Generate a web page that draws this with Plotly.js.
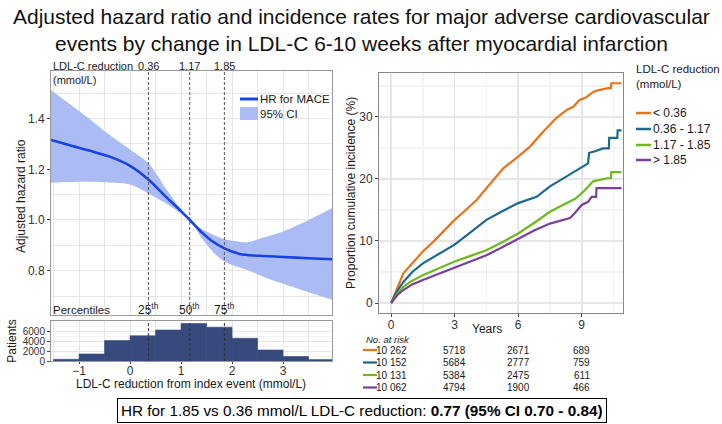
<!DOCTYPE html>
<html><head><meta charset="utf-8">
<script src="https://cdn.plot.ly/plotly-3.0.1.min.js"></script>
<style>html,body{margin:0;padding:0;background:#fff}#chart{width:722px;height:424px}</style>
</head><body><div id="chart"></div>
<script>
// ---- Left panel: spline HR curve ----
const ldlX    = [-1.55, -1.2, -0.8, -0.4, 0, 0.36, 0.7, 1.0, 1.17, 1.4, 1.6, 1.85, 2.15, 2.3, 2.6, 3.0, 3.5, 3.96];
const hrMid   = [1.316, 1.296, 1.274, 1.25, 1.214, 1.16, 1.092, 1.035, 1.0, 0.952, 0.918, 0.888, 0.866, 0.862, 0.858, 0.854, 0.849, 0.845];
const hrUpper = [1.513, 1.46, 1.40, 1.335, 1.278, 1.224, 1.125, 1.04, 1.0, 0.965, 0.945, 0.924, 0.914, 0.912, 0.93, 0.955, 1.0, 1.046];
const hrLower = [1.147, 1.15, 1.151, 1.148, 1.14, 1.105, 1.066, 1.025, 1.0, 0.93, 0.88, 0.836, 0.812, 0.803, 0.777, 0.748, 0.715, 0.685];

// ---- Histogram ----
const binCenters = [-1.25, -0.75, -0.25, 0.25, 0.75, 1.25, 1.75, 2.25, 2.75, 3.25, 3.75];
const binCounts  = [340, 1400, 4100, 5050, 6200, 7500, 6750, 4550, 2200, 900, 280];

// ---- Percentiles ----
const pctValues = [0.36, 1.17, 1.85];
const pctLabels = ['25', '50', '75'];

// ---- Right panel: cumulative incidence ----
const groupNames  = ['< 0.36', '0.36 - 1.17', '1.17 - 1.85', '> 1.85'];
const groupColors = ['#E8731A', '#1B6A8E', '#6DB71F', '#7A3E9D'];

const tOrange = [0, 0.3, 0.58, 1.13, 1.5, 2.0, 2.5, 3.0, 3.5, 4.04, 4.5, 5.0, 5.3, 6.0, 6.56, 7.18, 7.8, 8.29, 8.6, 8.9, 9.2, 9.54, 9.8, 10.25, 10.38, 10.4, 10.88];
const yOrange = [0, 2.6, 4.8, 6.9, 8.3, 9.9, 11.7, 13.4, 14.9, 16.6, 18.5, 20.4, 21.7, 23.6, 25.2, 27.6, 29.8, 31.1, 31.6, 32.7, 33.1, 34.0, 34.3, 34.6, 34.6, 35.4, 35.4];

const tTeal = [0, 0.3, 0.58, 1.0, 1.5, 2.0, 2.5, 3.0, 3.75, 4.5, 5.25, 6.0, 6.87, 7.5, 8.29, 8.9, 9.3, 9.35, 9.6, 10.0, 10.28, 10.3, 10.68, 10.7, 10.88];
const yTeal = [0, 2.0, 3.4, 5.0, 6.4, 7.4, 8.4, 9.4, 11.4, 13.4, 14.8, 16.1, 17.1, 18.8, 20.4, 21.7, 22.5, 24.2, 24.4, 24.9, 24.9, 26.6, 26.6, 27.8, 27.8];

const tGreen = [0, 0.3, 0.58, 1.0, 1.5, 2.25, 3.0, 3.75, 4.5, 5.25, 6.0, 6.75, 7.5, 8.29, 8.7, 9.1, 9.54, 9.8, 10.2, 10.38, 10.4, 10.88];
const yGreen = [0, 1.5, 2.6, 3.6, 4.5, 5.6, 6.7, 7.6, 8.5, 9.8, 11.2, 12.9, 14.7, 16.1, 16.8, 18.0, 19.6, 19.8, 20.1, 20.1, 21.1, 21.1];

const tPurple = [0, 0.3, 0.58, 1.0, 1.5, 2.25, 3.0, 3.75, 4.5, 5.25, 6.0, 6.75, 7.5, 8.0, 8.45, 8.7, 9.0, 9.3, 9.47, 9.68, 9.7, 10.88];
const yPurple = [0, 1.3, 2.1, 3.0, 3.7, 4.7, 5.6, 6.6, 7.7, 9.0, 10.4, 11.7, 12.8, 13.3, 13.7, 14.6, 15.8, 16.3, 17.1, 17.1, 18.5, 18.5];

// ---- Number at risk ----
const riskTimes  = [0, 3, 6, 9];
const riskOrange = ['10 262', '5718', '2671', '689'];
const riskTeal   = ['10 152', '5684', '2777', '759'];
const riskGreen  = ['10 131', '5384', '2475', '611'];
const riskPurple = ['10 062', '4794', '1900', '466'];

const W = 722, H = 424;
const px = x => x / W;
const py = y => 1 - y / H;
const FONT = 'Liberation Sans, Arial, sans-serif';
const TXT = '#1a1a1a';
const GRID = '#e6e6e6';
const MINOR = '#f3f3f3';

const curveT = [tOrange, tTeal, tGreen, tPurple];
const curveY = [yOrange, yTeal, yGreen, yPurple];
const riskRows = [riskOrange, riskTeal, riskGreen, riskPurple];

const data = [
  {x: ldlX, y: hrLower, xaxis: 'x', yaxis: 'y', mode: 'lines', line: {width: 0, shape: 'spline', smoothing: 0.9}, showlegend: false, hoverinfo: 'skip'},
  {x: ldlX, y: hrUpper, xaxis: 'x', yaxis: 'y', mode: 'lines', fill: 'tonexty', fillcolor: 'rgb(170,188,243)', line: {width: 0, shape: 'spline', smoothing: 0.9}, showlegend: false},
  {x: ldlX, y: hrMid, xaxis: 'x', yaxis: 'y', mode: 'lines', line: {color: '#1742E6', width: 2.6, shape: 'spline', smoothing: 0.9}, showlegend: false},
  {x: binCenters, y: binCounts, xaxis: 'x2', yaxis: 'y2', type: 'bar', width: 0.5, marker: {color: '#364A7E', line: {width: 0.6, color: '#364A7E'}}, showlegend: false}
];
for (let i = 0; i < 4; i++) {
  data.push({x: curveT[i], y: curveY[i], xaxis: 'x3', yaxis: 'y3', mode: 'lines', name: groupNames[i],
    line: {color: groupColors[i], width: 2.2}, showlegend: false});
}

const shapes = [];
const annotations = [];
// title
annotations.push({xref: 'paper', yref: 'paper', x: 0.5, y: py(3), xanchor: 'center', yanchor: 'top', showarrow: false,
  text: 'Adjusted hazard ratio and incidence rates for major adverse cardiovascular<br>events by change in LDL-C 6-10 weeks after myocardial infarction',
  font: {size: 21, color: '#111'}});
// dashed percentile lines
pctValues.forEach((v, i) => {
  shapes.push({type: 'line', xref: 'x', yref: 'y domain', x0: v, x1: v, y0: 0, y1: 1, line: {color: '#555', width: 1, dash: '3px,2px'}});
  shapes.push({type: 'line', xref: 'x2', yref: 'y2 domain', x0: v, x1: v, y0: 0, y1: 1, line: {color: '#333', width: 1, dash: '3px,2px'}, layer: 'above'});
  annotations.push({xref: 'x', yref: 'paper', x: v, y: py(66), text: v.toFixed(2), showarrow: false, font: {size: 11, color: TXT}, xanchor: 'center', yanchor: 'middle'});
  annotations.push({xref: 'x', yref: 'paper', x: v, y: py(309), text: pctLabels[i] + '<sup>th</sup>', showarrow: false, font: {size: 12, color: TXT}, xanchor: 'center', yanchor: 'middle'});
});
annotations.push({xref: 'paper', yref: 'paper', x: px(51), y: py(66), text: 'LDL-C reduction', showarrow: false, font: {size: 11, color: TXT}, xanchor: 'left', yanchor: 'middle'});
annotations.push({xref: 'paper', yref: 'paper', x: px(51), y: py(80), text: '(mmol/L)', showarrow: false, font: {size: 11, color: TXT}, xanchor: 'left', yanchor: 'middle'});
annotations.push({xref: 'paper', yref: 'paper', x: px(51), y: py(310), text: 'Percentiles', showarrow: false, font: {size: 11.5, color: TXT}, xanchor: 'left', yanchor: 'middle'});

// left legend (drawn)
shapes.push({type: 'line', xref: 'paper', yref: 'paper', x0: px(240), x1: px(258), y0: py(99), y1: py(99), line: {color: '#1742E6', width: 3}});
shapes.push({type: 'rect', xref: 'paper', yref: 'paper', x0: px(240), x1: px(258), y0: py(107), y1: py(120), fillcolor: 'rgb(170,188,243)', line: {width: 0}});
annotations.push({xref: 'paper', yref: 'paper', x: px(258), y: py(99), text: 'HR for MACE', showarrow: false, font: {size: 11.5, color: TXT}, xanchor: 'left', yanchor: 'middle'});
annotations.push({xref: 'paper', yref: 'paper', x: px(258), y: py(114), text: '95% CI', showarrow: false, font: {size: 11.5, color: TXT}, xanchor: 'left', yanchor: 'middle'});

// right legend (drawn)
annotations.push({xref: 'paper', yref: 'paper', x: px(634), y: py(61), text: 'LDL-C reduction<br>(mmol/L)', showarrow: false, align: 'left', font: {size: 11.5, color: TXT}, xanchor: 'left', yanchor: 'top'});
const legY = [113, 129, 145, 160];
groupNames.forEach((g, i) => {
  shapes.push({type: 'line', xref: 'paper', yref: 'paper', x0: px(636), x1: px(651), y0: py(legY[i]), y1: py(legY[i]), line: {color: groupColors[i], width: 2.5}});
  annotations.push({xref: 'paper', yref: 'paper', x: px(651), y: py(legY[i]), text: g, showarrow: false, font: {size: 12, color: TXT}, xanchor: 'left', yanchor: 'middle'});
});

// axis titles placed explicitly
annotations.push({xref: 'paper', yref: 'paper', x: px(21), y: py(196), text: 'Adjusted hazard ratio', textangle: -90, showarrow: false, font: {size: 12, color: TXT}, xanchor: 'center', yanchor: 'middle'});
annotations.push({xref: 'paper', yref: 'paper', x: px(487), y: py(329), text: 'Years', showarrow: false, font: {size: 12, color: TXT}, xanchor: 'center', yanchor: 'middle'});
annotations.push({xref: 'paper', yref: 'paper', x: px(191), y: py(384), text: 'LDL-C reduction from index event (mmol/L)', showarrow: false, font: {size: 12, color: TXT}, xanchor: 'center', yanchor: 'middle'});

// risk table
annotations.push({xref: 'paper', yref: 'paper', x: px(364), y: py(339), text: '<i>No. at risk</i>', showarrow: false, font: {size: 9.5, color: TXT}, xanchor: 'left', yanchor: 'middle'});
const rowY = [350, 362.5, 375, 387.5];
riskRows.forEach((row, r) => {
  shapes.push({type: 'line', xref: 'paper', yref: 'paper', x0: px(363), x1: px(377), y0: py(rowY[r]), y1: py(rowY[r]), line: {color: groupColors[r], width: 2.2}});
  row.forEach((val, c) => {
    annotations.push({xref: 'x3', yref: 'paper', x: riskTimes[c], y: py(rowY[r]), text: val, showarrow: false, font: {size: 10, color: TXT}, xanchor: 'center', yanchor: 'middle'});
  });
});

// bottom box
annotations.push({xref: 'paper', yref: 'paper', x: px(362), y: py(410), text: 'HR for 1.85 vs 0.36 mmol/L LDL-C reduction: <b>0.77 (95% CI 0.70 - 0.84)</b>', showarrow: false,
  font: {size: 15.3, color: '#000'}, bordercolor: '#000', borderwidth: 1, borderpad: 3, bgcolor: '#fff', xanchor: 'center', yanchor: 'middle'});

const tickFont = {size: 12, color: '#333'};
const layout = {
  width: W, height: H,
  margin: {l: 0, r: 0, t: 0, b: 0},
  paper_bgcolor: '#fff', plot_bgcolor: '#fff',
  font: {family: FONT, color: TXT},
  showlegend: false,
  xaxis: {domain: [px(51), px(332)], range: [-1.55, 3.96], anchor: 'y', showticklabels: false, ticks: '', dtick: 0.5, tick0: 0,
    gridcolor: GRID, gridwidth: 1, zeroline: false, showline: true, mirror: true, linecolor: '#999', linewidth: 1},
  yaxis: {domain: [py(315), py(71)], range: [0.625, 1.588], anchor: 'x', tickvals: [0.8, 1.0, 1.2, 1.4], ticktext: ['0.8', '1.0', '1.2', '1.4'],
    ticks: 'outside', ticklen: 3, tickcolor: '#444', tickfont: tickFont,
    minor: {dtick: 0.1, tick0: 0.6, showgrid: true, gridcolor: GRID, ticks: ''},
    gridcolor: GRID, zeroline: false, showline: true, mirror: true, linecolor: '#999'},
  xaxis2: {domain: [px(51), px(332)], range: [-1.55, 3.96], anchor: 'y2', dtick: 1, tick0: 0, ticks: 'outside', ticklen: 2, tickcolor: '#444', tickfont: tickFont,
    ticklabelstandoff: -3,
    minor: {dtick: 0.5, tick0: 0, showgrid: true, gridcolor: GRID}, gridcolor: GRID, zeroline: false, showline: true, mirror: true, linecolor: '#999'},
  yaxis2: {domain: [py(361), py(321)], range: [0, 8000], anchor: 'x2', tickvals: [0, 2000, 4000, 6000], ticks: 'outside', ticklen: 3, tickcolor: '#444',
    tickfont: {size: 10, color: '#333'}, minor: {dtick: 1000, showgrid: true, gridcolor: MINOR}, gridcolor: GRID, zeroline: false, showline: true, mirror: true, linecolor: '#999',
    title: {text: 'Patients', font: {size: 12, color: TXT}, standoff: 3}},
  xaxis3: {domain: [px(379), px(623)], range: [-0.57, 10.95], anchor: 'y3', tickvals: [0, 3, 6, 9], ticks: 'outside', ticklen: 3, tickcolor: '#444', tickfont: tickFont,
    ticklabelstandoff: -2,
    minor: {dtick: 1.5, tick0: 0, showgrid: true, gridcolor: MINOR}, gridcolor: GRID, gridwidth: 1.6, zeroline: false, showline: true, mirror: true, linecolor: '#888'},
  yaxis3: {domain: [py(313), py(72.7)], range: [-1.6, 37.1], anchor: 'x3', tickvals: [0, 10, 20, 30], ticks: 'outside', ticklen: 3, tickcolor: '#444', tickfont: tickFont,
    minor: {dtick: 5, tick0: 0, showgrid: true, gridcolor: MINOR}, gridcolor: GRID, gridwidth: 1.6, zeroline: false, showline: true, mirror: true, linecolor: '#888',
    title: {text: 'Proportion cumulative incidence (%)', font: {size: 12, color: TXT}, standoff: 1}},
  shapes: shapes,
  annotations: annotations
};

Plotly.newPlot('chart', data, layout, {displayModeBar: false, staticPlot: true});
</script>
</body></html>
